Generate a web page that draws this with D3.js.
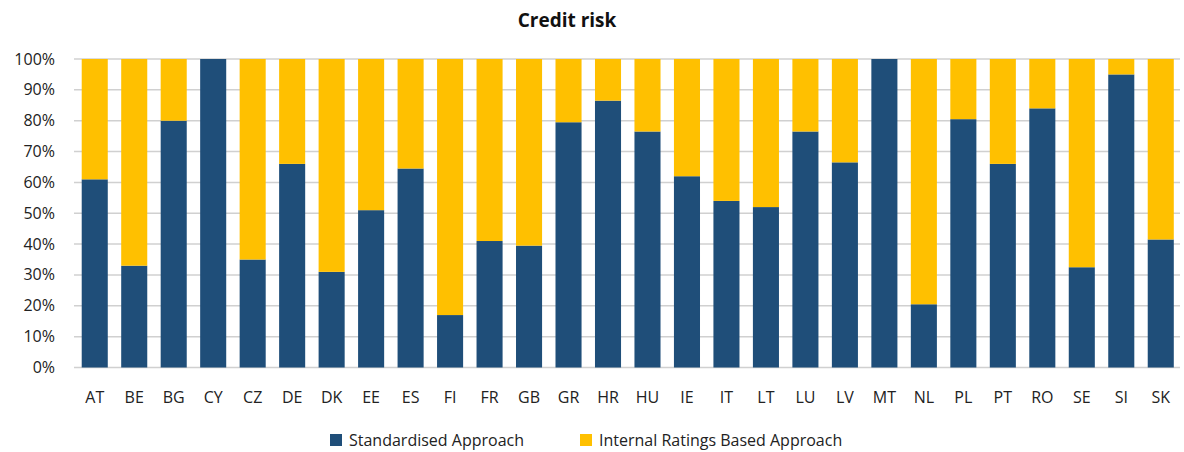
<!DOCTYPE html>
<meta charset="utf-8">
<head>
  <script type="text/javascript" src="https://cdn.jsdelivr.net/npm/d3@7"></script>
</head>
<style type="text/css">
  body {
    font-family: "Open Sans", sans-serif;
    margin: 0;
    background: #fff;
  }
  .grid line {
    stroke: #d0d0d0;
    stroke-width: 1.5px;
  }
  .tick-label {
    font-size: 16px;
    fill: #222;
  }
</style>
<body>
</body>
<script type="text/javascript">

var countries = ["AT","BE","BG","CY","CZ","DE","DK","EE","ES","FI","FR","GB","GR","HR",
                 "HU","IE","IT","LT","LU","LV","MT","NL","PL","PT","RO","SE","SI","SK"];

// share of standardised approach, in %
var standardised = [61, 33, 80, 100, 35, 66, 31, 51, 64.5, 17, 41, 39.5, 79.5, 86.5,
                    76.5, 62, 54, 52, 76.5, 66.5, 100, 20.5, 80.5, 66, 84, 32.5, 95, 41.5];

var yTicks = [0, 10, 20, 30, 40, 50, 60, 70, 80, 90, 100];

var seriesNames = ["Standardised Approach", "Internal Ratings Based Approach"];
var colors = ["#1f4e79", "#ffc000"];

var width = 1184,
    height = 452;

var svg = d3.select("body").append("svg")
    .attr("width", width)
    .attr("height", height);

var x = d3.scaleBand()
    .domain(countries)
    .range([75, 1180.5])
    .paddingInner(0.34)
    .paddingOuter(0.17);

var y = d3.scaleLinear()
    .domain([0, 100])
    .range([367.5, 59]);

// gridlines
svg.append("g")
    .attr("class", "grid")
  .selectAll("line")
    .data(yTicks)
  .enter().append("line")
    .attr("x1", 74)
    .attr("x2", 1180)
    .attr("y1", function(d) { return y(d); })
    .attr("y2", function(d) { return y(d); });

// y labels
svg.append("g")
  .selectAll("text")
    .data(yTicks)
  .enter().append("text")
    .attr("class", "tick-label")
    .attr("x", 55)
    .attr("y", function(d) { return y(d) + 5.5; })
    .attr("text-anchor", "end")
    .text(function(d) { return d + "%"; });

var rows = countries.map(function(c, i) {
  return { country: c, std: standardised[i], irb: 100 - standardised[i] };
});

var stack = d3.stack().keys(["std", "irb"]);
var layers = stack(rows);

svg.append("g")
  .selectAll("g")
    .data(layers)
  .enter().append("g")
    .attr("fill", function(d, i) { return colors[i]; })
  .selectAll("rect")
    .data(function(d) { return d; })
  .enter().append("rect")
    .attr("x", function(d) { return x(d.data.country); })
    .attr("width", x.bandwidth())
    .attr("y", function(d) { return y(d[1]); })
    .attr("height", function(d) { return y(d[0]) - y(d[1]); });

// x labels
svg.append("g")
  .selectAll("text")
    .data(countries)
  .enter().append("text")
    .attr("class", "tick-label")
    .attr("x", function(d) { return x(d) + x.bandwidth() / 2; })
    .attr("y", 403)
    .attr("text-anchor", "middle")
    .text(function(d) { return d; });

// title
svg.append("text")
    .attr("x", 567)
    .attr("y", 27)
    .attr("text-anchor", "middle")
    .style("font-weight", "bold")
    .style("font-size", "19px")
    .style("fill", "#111")
    .text("Credit risk");

// legend
var legendX = [330, 580];
var legend = svg.selectAll(".legend")
    .data(seriesNames)
  .enter().append("g")
    .attr("class", "legend")
    .attr("transform", function(d, i) { return "translate(" + legendX[i] + ",434)"; });

legend.append("rect")
    .attr("width", 12)
    .attr("height", 12)
    .style("fill", function(d, i) { return colors[i]; });

legend.append("text")
    .attr("x", 19)
    .attr("y", 12)
    .style("font-size", "16px")
    .style("fill", "#222")
    .text(function(d) { return d; });

</script>
</html>
